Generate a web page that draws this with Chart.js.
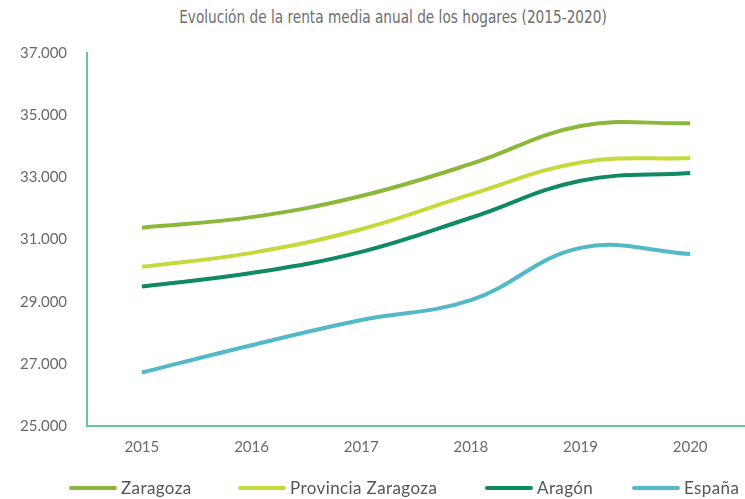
<!DOCTYPE html>
<html>
<head>
<meta charset="utf-8">
<script src="https://cdn.jsdelivr.net/npm/chart.js@4/dist/chart.umd.min.js"></script>
<style>
  html, body { margin: 0; padding: 0; background: #fff; }
  #wrap { width: 745px; height: 499px; position: relative; overflow: hidden; }
  #chart-box { position: absolute; left: 0; top: 0; width: 745px; height: 479px; }
  #title {
    position: absolute; top: 6px; left: 393px; transform: translateX(-50%) scaleX(0.76);
    white-space: nowrap; color: #6e6e6e; font-size: 18px;
    font-family: 'DejaVu Sans', sans-serif;
  }
  #legend {
    position: absolute; top: 477px; left: 0; width: 745px; height: 22px;
    font-family: Lato, sans-serif; font-size: 17px; color: #555; letter-spacing: 0.4px;
  }
  #legend .item { position: absolute; top: 0; display: flex; align-items: center; }
  #legend .item:nth-child(1) { left: 69px; }
  #legend .item:nth-child(2) { left: 238px; }
  #legend .item:nth-child(3) { left: 485px; }
  #legend .item:nth-child(4) { left: 632px; }
  #legend .swatch { width: 48px; height: 4px; border-radius: 2px; margin-right: 4px; }
</style>
</head>
<body>
<div id="wrap">
  <div id="title">Evolución de la renta media anual de los hogares (2015-2020)</div>
  <div id="chart-box"><canvas id="renta-chart"></canvas></div>
  <div id="legend"></div>
</div>
<script>
// years on the x axis
const years = ['2015', '2016', '2017', '2018', '2019', '2020'];

// renta media anual por hogar (euros)
const zaragoza = [31380, 31720, 32400, 33430, 34650, 34740];
const provinciaZaragoza = [30120, 30570, 31330, 32450, 33480, 33620];
const aragon = [29490, 29920, 30600, 31700, 32890, 33140];
const espana = [26720, 27600, 28410, 29050, 30730, 30530];

const yTicks = [25000, 27000, 29000, 31000, 33000, 35000, 37000];

/**
 * 37000 -> "37.000"
 * @param {number} v
 * @returns {string}
 */
function formatMiles(v) {
    return String(v).replace(/\B(?=(\d{3})+(?!\d))/g, '.');
}

function serie(label, data, color) {
    return {
        label: label,
        data: data,
        borderColor: color,
        backgroundColor: color,
        borderWidth: 4,
        pointRadius: 0,
        tension: 0.4,
        fill: false
    };
}

const axisColor = '#6cc596';
const tickColor = '#6a6a6a';

const chart = new Chart(document.getElementById('renta-chart'), {
    type: 'line',
    data: {
        labels: years,
        datasets: [
            serie('Zaragoza', zaragoza, '#8bb83a'),
            serie('Provincia Zaragoza', provinciaZaragoza, '#c6d93a'),
            serie('Aragón', aragon, '#0f8a63'),
            serie('España', espana, '#52b9c9')
        ]
    },
    options: {
        responsive: true,
        maintainAspectRatio: false,
        animation: false,
        layout: {
            padding: { left: 0, right: 0, top: 53, bottom: 11 }
        },
        scales: {
            x: {
                offset: true,
                grid: { display: true, drawOnChartArea: false, drawTicks: false },
                border: { color: axisColor, width: 2 },
                ticks: {
                    color: tickColor,
                    font: { family: 'Lato', size: 15 },
                    padding: 12
                }
            },
            y: {
                min: 25000,
                max: 37000,
                afterBuildTicks: function (axis) {
                    axis.ticks = yTicks.map(v => ({ value: v }));
                },
                grid: { display: true, drawOnChartArea: false, drawTicks: false },
                border: { color: axisColor, width: 2 },
                ticks: {
                    color: tickColor,
                    font: { family: 'Lato', size: 15 },
                    padding: 20,
                    callback: v => formatMiles(v)
                }
            }
        },
        plugins: {
            legend: { display: false },
            tooltip: { enabled: false }
        }
    }
});

// html legend built from the datasets
const legendEl = document.getElementById('legend');
chart.data.datasets.forEach(ds => {
    const item = document.createElement('div');
    item.className = 'item';
    const sw = document.createElement('span');
    sw.className = 'swatch';
    sw.style.background = ds.borderColor;
    const txt = document.createElement('span');
    txt.textContent = ds.label;
    item.appendChild(sw);
    item.appendChild(txt);
    legendEl.appendChild(item);
});
</script>
</body>
</html>
